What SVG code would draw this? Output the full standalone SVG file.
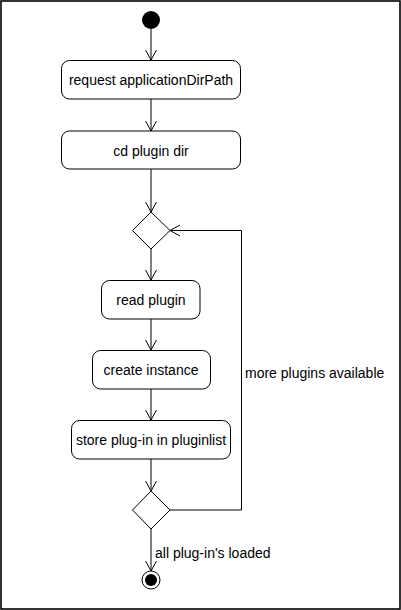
<svg xmlns="http://www.w3.org/2000/svg" width="401" height="610" viewBox="0 0 401 610">
<defs>
<style>
.n{fill:#fff;stroke:#000;stroke-width:1}
.t{font-family:"Liberation Sans",Arial,sans-serif;font-size:14px;fill:#000}
.c{text-anchor:middle}
.e{fill:none;stroke:#000;stroke-width:1}
</style>
<marker id="a" markerWidth="20" markerHeight="20" refX="10" refY="6" orient="auto" markerUnits="userSpaceOnUse" viewBox="0 0 20 20">
<path d="M-1,0 L10,6 L-1,12" fill="none" stroke="#000" stroke-width="1"/>
</marker>
</defs>
<rect x="0" y="0" width="401" height="610" fill="#fff"/>
<rect x="1" y="1" width="399" height="608" fill="none" stroke="#000" stroke-width="1.6"/>
<g id="connectors">
<line class="e" x1="151" y1="29" x2="151" y2="60" marker-end="url(#a)"/>
<line class="e" x1="151" y1="99" x2="151" y2="131" marker-end="url(#a)"/>
<line class="e" x1="151" y1="169" x2="151" y2="212" marker-end="url(#a)"/>
<line class="e" x1="151" y1="249" x2="151" y2="280" marker-end="url(#a)"/>
<line class="e" x1="151" y1="319" x2="151" y2="350" marker-end="url(#a)"/>
<line class="e" x1="151" y1="389" x2="151" y2="420" marker-end="url(#a)"/>
<line class="e" x1="151" y1="459" x2="151" y2="491" marker-end="url(#a)"/>
<polyline class="e" points="170,510 241.5,510 241.5,230.5 170,230.5" marker-end="url(#a)"/>
<text class="t" x="245" y="378">more plugins available</text>
<line class="e" x1="151" y1="529" x2="151" y2="571" marker-end="url(#a)"/>
<text class="t" x="155" y="557.5">all plug-in's loaded</text>
</g>
<g id="start"><circle cx="151" cy="20" r="9" fill="#000"/></g>
<g id="request"><rect class="n" x="61.5" y="60.5" width="179" height="38.5" rx="8"/><text class="t c" x="151" y="85">request applicationDirPath</text></g>
<g id="cd"><rect class="n" x="61.5" y="131" width="179" height="38" rx="8"/><text class="t c" x="151" y="155.5">cd plugin dir</text></g>
<g id="decision1"><polygon class="n" points="151,212 170,230.5 151,249 132.5,230.5"/></g>
<g id="read"><rect class="n" x="101.5" y="280.5" width="98.5" height="38.5" rx="8"/><text class="t c" x="151" y="305">read plugin</text></g>
<g id="create"><rect class="n" x="92.5" y="350.5" width="118" height="38.5" rx="8"/><text class="t c" x="151" y="375">create instance</text></g>
<g id="store"><rect class="n" x="71.5" y="420.5" width="159" height="38.5" rx="8"/><text class="t c" x="151" y="445">store plug-in in pluginlist</text></g>
<g id="decision2"><polygon class="n" points="151,491 170,510 151,529 132.5,510"/></g>
<g id="end"><circle cx="151" cy="580" r="9" fill="#fff" stroke="#000" stroke-width="1"/><circle cx="151" cy="580" r="6" fill="#000"/></g>
</svg>
